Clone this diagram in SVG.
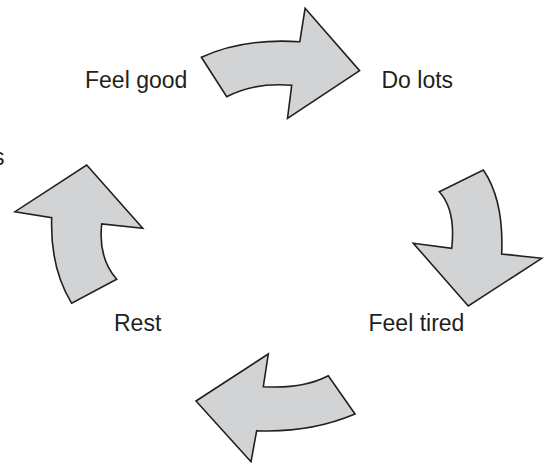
<svg xmlns="http://www.w3.org/2000/svg" width="549" height="463" viewBox="0 0 549 463">
<style>
.arrow{fill:#d1d3d4;stroke:#231f20;stroke-width:1.6;stroke-linejoin:miter}
.lbl{font-family:"Liberation Sans",Arial,sans-serif;font-size:23px;fill:#231f20}
</style>
<rect width="549" height="463" fill="#ffffff"/>
<g id="connectors">
<path id="arrow-top" class="arrow" d="M201.4,57.3 Q243,38 299.8,41.7 L305.1,8.3 L359.6,70.7 L287.5,118.3 L291.7,85.3 Q255,82 226.7,96.7 Z"/>
<path id="arrow-right" class="arrow" d="M483.3,170 Q504,200 501.7,254 L541.7,258.3 L468.3,306 L413.3,243.3 L451.7,248.3 Q456,210 439.3,191.7 Z"/>
<path id="arrow-bottom" class="arrow" d="M355,414 Q310,433 256.7,430.7 L251,461.7 L196,401 L268.3,354 L263.3,386.7 Q303,389 328.3,375.7 Z"/>
<path id="arrow-left" class="arrow" d="M71.7,303.3 Q50,268 51.7,217.7 L15,211.7 L86.7,165 L142.7,228.3 L101.7,224 Q98,258 116.7,279.3 Z"/>
</g>
<g id="node-feel-good"><text class="lbl" x="85" y="88">Feel good</text></g>
<g id="node-do-lots"><text class="lbl" x="381.5" y="88">Do lots</text></g>
<g id="node-feel-tired"><text class="lbl" x="368.5" y="331">Feel tired</text></g>
<g id="node-rest"><text class="lbl" x="114" y="331">Rest</text></g>
<g id="node-cut"><text class="lbl" x="4.5" y="165" text-anchor="end">s</text></g>
</svg>
